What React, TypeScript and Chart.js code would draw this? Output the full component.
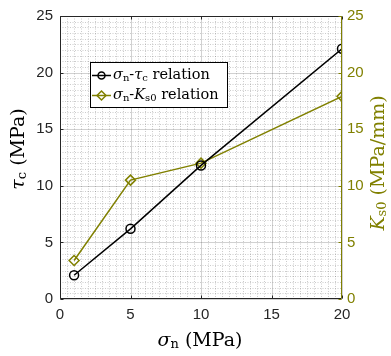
import React, { useEffect, useRef } from 'react';
import { Chart, registerables } from 'chart.js';
Chart.register(...registerables);

const sigmaN = [1, 5, 10, 20];
const tauC = [2.1, 6.2, 11.8, 22.1];
const kS0 = [3.4, 10.5, 12.0, 17.9];
const xTicks = [0, 5, 10, 15, 20];
const yLeftTicks = [0, 5, 10, 15, 20, 25];
const yRightTicks = [0, 5, 10, 15, 20, 25];
const minorStep = 0.5;

const OLIVE = 'rgb(128,128,0)';
const SERIF = '"DejaVu Serif", "Liberation Serif", serif';
const SANS = '"Liberation Sans", Arial, sans-serif';

type Seg = { t: string; font: string; dy?: number };

function segWidth(ctx: CanvasRenderingContext2D, segs: Seg[]) {
  let w = 0;
  for (const s of segs) {
    ctx.font = s.font;
    w += ctx.measureText(s.t).width;
  }
  return w;
}

function drawSegs(ctx: CanvasRenderingContext2D, segs: Seg[], x: number, y: number, color: string, align: 'left' | 'center') {
  const w = segWidth(ctx, segs);
  let cx = align === 'center' ? x - w / 2 : x;
  ctx.fillStyle = color;
  ctx.textBaseline = 'middle';
  ctx.textAlign = 'left';
  for (const s of segs) {
    ctx.font = s.font;
    ctx.fillText(s.t, cx, y + (s.dy || 0));
    cx += ctx.measureText(s.t).width;
  }
}

const it = (sz: number) => `italic ${sz}px ${SERIF}`;
const rm = (sz: number) => `${sz}px ${SERIF}`;

const decor = {
  id: 'decor',
  beforeDatasetsDraw(chart: any) {
    const ctx: CanvasRenderingContext2D = chart.ctx;
    const a = chart.chartArea;
    const xs = chart.scales.x;
    const ys = chart.scales.y;
    ctx.save();
    ctx.lineWidth = 1;
    // minor grid
    ctx.strokeStyle = 'rgba(0,0,0,0.2)';
    ctx.setLineDash([1, 1.5]);
    for (let v = xs.min; v <= xs.max + 1e-9; v += minorStep) {
      if (Math.abs(v % 5) < 1e-9) continue;
      const px = Math.round(xs.getPixelForValue(v)) + 0.5;
      ctx.beginPath(); ctx.moveTo(px, a.top); ctx.lineTo(px, a.bottom); ctx.stroke();
    }
    for (let v = ys.min; v <= ys.max + 1e-9; v += minorStep) {
      if (Math.abs(v % 5) < 1e-9) continue;
      const py = Math.round(ys.getPixelForValue(v)) + 0.5;
      ctx.beginPath(); ctx.moveTo(a.left, py); ctx.lineTo(a.right, py); ctx.stroke();
    }
    // major grid
    ctx.setLineDash([]);
    ctx.strokeStyle = 'rgba(0,0,0,0.18)';
    for (const v of xTicks) {
      const px = Math.round(xs.getPixelForValue(v)) + 0.5;
      ctx.beginPath(); ctx.moveTo(px, a.top); ctx.lineTo(px, a.bottom); ctx.stroke();
    }
    for (const v of yLeftTicks) {
      const py = Math.round(ys.getPixelForValue(v)) + 0.5;
      ctx.beginPath(); ctx.moveTo(a.left, py); ctx.lineTo(a.right, py); ctx.stroke();
    }
    ctx.restore();
  },
  afterDraw(chart: any) {
    const ctx: CanvasRenderingContext2D = chart.ctx;
    const a = chart.chartArea;
    const xs = chart.scales.x;
    const ys = chart.scales.y;
    const yr = chart.scales.y1;
    ctx.save();
    ctx.setLineDash([]);
    ctx.lineWidth = 1;
    const L = Math.round(a.left) + 0.5, R = Math.round(a.right) - 0.5;
    const T = Math.round(a.top) + 0.5, B = Math.round(a.bottom) - 0.5;
    const tl = 3;
    // frame
    ctx.strokeStyle = '#262626';
    ctx.beginPath();
    ctx.moveTo(R, T); ctx.lineTo(L, T); ctx.lineTo(L, B); ctx.lineTo(R, B);
    ctx.stroke();
    for (const v of xTicks) {
      const px = Math.round(xs.getPixelForValue(v)) + 0.5;
      ctx.beginPath(); ctx.moveTo(px, B); ctx.lineTo(px, B - tl); ctx.stroke();
      ctx.beginPath(); ctx.moveTo(px, T); ctx.lineTo(px, T + tl); ctx.stroke();
    }
    for (const v of yLeftTicks) {
      const py = Math.round(ys.getPixelForValue(v)) + 0.5;
      ctx.beginPath(); ctx.moveTo(L, py); ctx.lineTo(L + tl, py); ctx.stroke();
    }
    ctx.strokeStyle = OLIVE;
    ctx.beginPath(); ctx.moveTo(R, T); ctx.lineTo(R, B); ctx.stroke();
    for (const v of yRightTicks) {
      const py = Math.round(yr.getPixelForValue(v)) + 0.5;
      ctx.beginPath(); ctx.moveTo(R, py); ctx.lineTo(R - tl, py); ctx.stroke();
    }

    // axis titles
    const fs = 19;
    const sub = 13;
    drawSegs(ctx, [
      { t: 'σ', font: it(fs) },
      { t: 'n', font: rm(sub), dy: 4 },
      { t: ' (MPa)', font: rm(fs) },
    ], 200, 341, '#000', 'center');

    ctx.save();
    ctx.translate(19, 149);
    ctx.rotate(-Math.PI / 2);
    drawSegs(ctx, [
      { t: 'τ', font: it(fs) },
      { t: 'c', font: rm(sub), dy: 4 },
      { t: ' (MPa)', font: rm(fs) },
    ], 0, 0, '#000', 'center');
    ctx.restore();

    ctx.save();
    ctx.translate(379, 163);
    ctx.rotate(-Math.PI / 2);
    drawSegs(ctx, [
      { t: 'K', font: it(fs) },
      { t: 's0', font: rm(sub), dy: 4 },
      { t: ' (MPa/mm)', font: rm(fs) },
    ], 0, 0, OLIVE, 'center');
    ctx.restore();

    // legend
    const bx = 90.5, by = 62.5, bw = 137, bh = 45;
    ctx.fillStyle = '#fff';
    ctx.fillRect(bx, by, bw, bh);
    ctx.strokeStyle = '#000';
    ctx.strokeRect(bx, by, bw, bh);
    const lf = 14.5, ls = 10;
    const rows = [
      { color: '#000', marker: 'circle', segs: [
        { t: 'σ', font: it(lf) }, { t: 'n', font: rm(ls), dy: 3 }, { t: '-', font: rm(lf) },
        { t: 'τ', font: it(lf) }, { t: 'c', font: rm(ls), dy: 3 }, { t: ' relation', font: rm(lf) },
      ] },
      { color: OLIVE, marker: 'diamond', segs: [
        { t: 'σ', font: it(lf) }, { t: 'n', font: rm(ls), dy: 3 }, { t: '-', font: rm(lf) },
        { t: 'K', font: it(lf) }, { t: 's0', font: rm(ls), dy: 3 }, { t: ' relation', font: rm(lf) },
      ] },
    ];
    rows.forEach((r, i) => {
      const cy = 75.5 + i * 20;
      ctx.strokeStyle = r.color;
      ctx.lineWidth = 1.5;
      ctx.beginPath(); ctx.moveTo(92, cy); ctx.lineTo(111, cy); ctx.stroke();
      ctx.beginPath();
      if (r.marker === 'circle') {
        ctx.arc(101.5, cy, 3.5, 0, Math.PI * 2);
      } else {
        ctx.moveTo(101.5, cy - 4.5); ctx.lineTo(106, cy); ctx.lineTo(101.5, cy + 4.5); ctx.lineTo(97, cy); ctx.closePath();
      }
      ctx.stroke();
      drawSegs(ctx, r.segs as Seg[], 113, cy, '#000', 'left');
    });
    ctx.restore();
  },
};

export default function App() {
  const ref = useRef<HTMLCanvasElement>(null);
  useEffect(() => {
    if (!ref.current) return;
    const chart = new Chart(ref.current, {
      type: 'line',
      data: {
        datasets: [
          {
            label: 'σn-τc relation',
            data: sigmaN.map((x, i) => ({ x, y: tauC[i] })),
            borderColor: '#000',
            borderWidth: 1.5,
            pointStyle: 'circle',
            pointRadius: 4.5,
            pointBorderWidth: 1.5,
            pointBorderColor: '#000',
            pointBackgroundColor: 'rgba(0,0,0,0)',
            yAxisID: 'y',
            order: 1,
          },
          {
            label: 'σn-Ks0 relation',
            data: sigmaN.map((x, i) => ({ x, y: kS0[i] })),
            borderColor: OLIVE,
            borderWidth: 1.5,
            pointStyle: 'rectRot',
            pointRadius: 5,
            pointBorderWidth: 1.5,
            pointBorderColor: OLIVE,
            pointBackgroundColor: 'rgba(0,0,0,0)',
            yAxisID: 'y1',
            order: 2,
          },
        ],
      },
      plugins: [decor],
      options: {
        responsive: false,
        animation: false,
        devicePixelRatio: 1,
        layout: { padding: { top: 15, left: 0, right: 0, bottom: 0 } },
        plugins: { legend: { display: false }, tooltip: { enabled: false } },
        scales: {
          x: {
            type: 'linear',
            min: 0,
            max: 20,
            afterBuildTicks: (s: any) => { s.ticks = xTicks.map((v) => ({ value: v })); },
            afterFit: (s: any) => { s.height = 57; },
            ticks: { color: '#262626', font: { family: SANS, size: 15 }, padding: 7, maxRotation: 0 },
            grid: { display: false, drawTicks: false },
            border: { display: false },
          },
          y: {
            type: 'linear',
            position: 'left',
            min: 0,
            max: 25,
            afterBuildTicks: (s: any) => { s.ticks = yLeftTicks.map((v) => ({ value: v })); },
            afterFit: (s: any) => { s.width = 60; },
            ticks: { color: '#262626', font: { family: SANS, size: 15 }, padding: 7 },
            grid: { display: false, drawTicks: false },
            border: { display: false },
          },
          y1: {
            type: 'linear',
            position: 'right',
            min: 0,
            max: 25,
            afterBuildTicks: (s: any) => { s.ticks = yRightTicks.map((v) => ({ value: v })); },
            afterFit: (s: any) => { s.width = 49; },
            ticks: { color: OLIVE, font: { family: SANS, size: 15 }, padding: 5 },
            grid: { display: false, drawTicks: false },
            border: { display: false },
          },
        },
      },
    });
    return () => chart.destroy();
  }, []);
  return (
    <div style={{ position: 'fixed', left: 0, top: 0, width: 391, height: 356, background: '#fff' }}>
      <canvas ref={ref} width={391} height={356} />
    </div>
  );
}
